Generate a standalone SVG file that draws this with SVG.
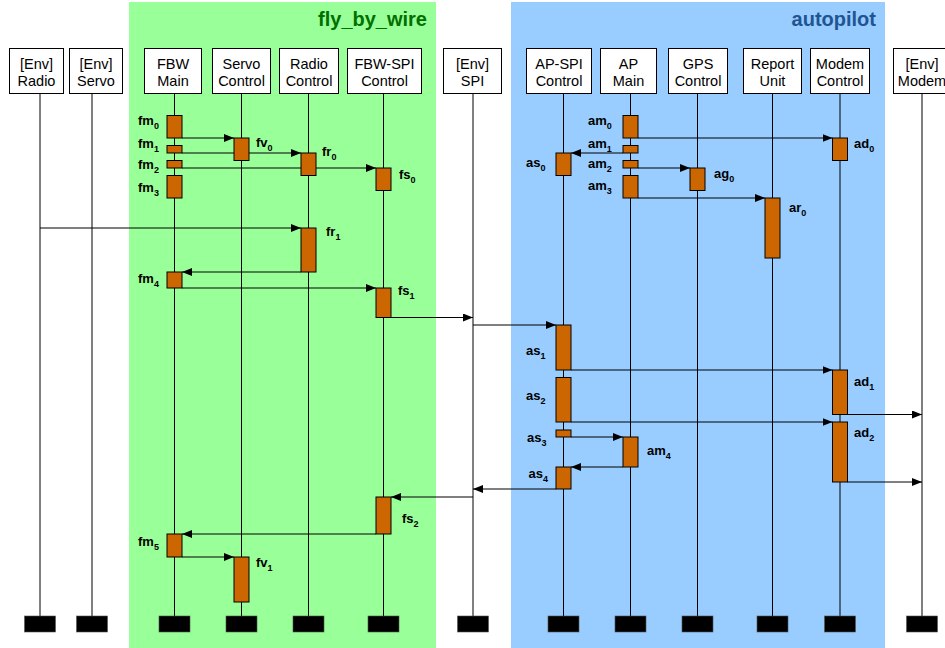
<svg xmlns="http://www.w3.org/2000/svg" width="945" height="648" viewBox="0 0 945 648">
  <style>
    .hdr rect { fill: #ffffff; stroke: #000000; stroke-width: 1; }
    .hdr text { font-family: "Liberation Sans", Arial, sans-serif; font-size: 14.5px; fill: #000000; text-anchor: middle; }
    .life { stroke: #000000; stroke-width: 1; }
    .end { fill: #000000; stroke: #555555; stroke-width: 0.6; }
    .act { fill: #cc6600; stroke: #000000; stroke-width: 1; }
    .lbl { font-family: "Liberation Sans", Arial, sans-serif; font-size: 13px; font-weight: bold; fill: #000000; }
    .sub { font-size: 9px; }
    .msg { stroke: #000000; stroke-width: 1; fill: none; marker-end: url(#arrow); }
    .title { font-family: "Liberation Sans", Arial, sans-serif; font-size: 20px; font-weight: bold; text-anchor: end; }
  </style>
  <defs>
    <marker id="arrow" viewBox="0 0 10 8" refX="10" refY="4" markerWidth="10" markerHeight="8" markerUnits="userSpaceOnUse" orient="auto">
      <path d="M0,0 L10,4 L0,8 Z" fill="#000000"/>
    </marker>
  </defs>

  <!-- subsystem backgrounds -->
  <g id="fly_by_wire">
    <rect x="129" y="2" width="307" height="646" fill="#99ff99"/>
    <text class="title" x="427" y="26" fill="#007000">fly_by_wire</text>
  </g>
  <g id="autopilot">
    <rect x="511" y="2" width="374" height="646" fill="#99ccff"/>
    <text class="title" x="876" y="26" fill="#1f5592">autopilot</text>
  </g>

  <!-- lifelines with end bars -->
  <g id="lifelines">
    <line class="life" x1="40" y1="93" x2="40" y2="616"/>
    <line class="life" x1="92" y1="93" x2="92" y2="616"/>
    <line class="life" x1="174.5" y1="93" x2="174.5" y2="616"/>
    <line class="life" x1="241.5" y1="93" x2="241.5" y2="616"/>
    <line class="life" x1="308.5" y1="93" x2="308.5" y2="616"/>
    <line class="life" x1="383.5" y1="93" x2="383.5" y2="616"/>
    <line class="life" x1="473" y1="93" x2="473" y2="616"/>
    <line class="life" x1="563.5" y1="93" x2="563.5" y2="616"/>
    <line class="life" x1="630.5" y1="93" x2="630.5" y2="616"/>
    <line class="life" x1="697.5" y1="93" x2="697.5" y2="616"/>
    <line class="life" x1="772.5" y1="93" x2="772.5" y2="616"/>
    <line class="life" x1="840" y1="93" x2="840" y2="616"/>
    <line class="life" x1="922" y1="93" x2="922" y2="616"/>
    <rect class="end" x="24.5" y="616" width="31" height="16"/>
    <rect class="end" x="76.5" y="616" width="31" height="16"/>
    <rect class="end" x="159" y="616" width="31" height="16"/>
    <rect class="end" x="226" y="616" width="31" height="16"/>
    <rect class="end" x="293" y="616" width="31" height="16"/>
    <rect class="end" x="368" y="616" width="31" height="16"/>
    <rect class="end" x="457.5" y="616" width="31" height="16"/>
    <rect class="end" x="548" y="616" width="31" height="16"/>
    <rect class="end" x="615" y="616" width="31" height="16"/>
    <rect class="end" x="682" y="616" width="31" height="16"/>
    <rect class="end" x="757" y="616" width="31" height="16"/>
    <rect class="end" x="824.5" y="616" width="31" height="16"/>
    <rect class="end" x="906.5" y="616" width="31" height="16"/>
  </g>

  <!-- participant headers -->
  <g id="env_radio" class="hdr">
    <rect x="9.5" y="48.5" width="54" height="45"/>
    <text x="36.5" y="68.5">[Env]</text><text x="36.5" y="85.5">Radio</text>
  </g>
  <g id="env_servo" class="hdr">
    <rect x="69.5" y="48.5" width="53" height="45"/>
    <text x="96" y="68.5">[Env]</text><text x="96" y="85.5">Servo</text>
  </g>
  <g id="fbw_main" class="hdr">
    <rect x="144.5" y="48.5" width="57" height="45"/>
    <text x="173" y="68.5">FBW</text><text x="173" y="85.5">Main</text>
  </g>
  <g id="servo_control" class="hdr">
    <rect x="212.5" y="48.5" width="58" height="45"/>
    <text x="241.5" y="68.5">Servo</text><text x="241.5" y="85.5">Control</text>
  </g>
  <g id="radio_control" class="hdr">
    <rect x="279.5" y="48.5" width="59" height="45"/>
    <text x="309" y="68.5">Radio</text><text x="309" y="85.5">Control</text>
  </g>
  <g id="fbw_spi_control" class="hdr">
    <rect x="347.5" y="48.5" width="74" height="45"/>
    <text x="384.5" y="68.5">FBW-SPI</text><text x="384.5" y="85.5">Control</text>
  </g>
  <g id="env_spi" class="hdr">
    <rect x="443.5" y="48.5" width="58" height="45"/>
    <text x="472.5" y="68.5">[Env]</text><text x="472.5" y="85.5">SPI</text>
  </g>
  <g id="ap_spi_control" class="hdr">
    <rect x="526.5" y="48.5" width="65" height="45"/>
    <text x="559" y="68.5">AP-SPI</text><text x="559" y="85.5">Control</text>
  </g>
  <g id="ap_main" class="hdr">
    <rect x="600.5" y="48.5" width="56" height="45"/>
    <text x="628.5" y="68.5">AP</text><text x="628.5" y="85.5">Main</text>
  </g>
  <g id="gps_control" class="hdr">
    <rect x="668.5" y="48.5" width="59" height="45"/>
    <text x="698" y="68.5">GPS</text><text x="698" y="85.5">Control</text>
  </g>
  <g id="report_unit" class="hdr">
    <rect x="743.5" y="48.5" width="58" height="45"/>
    <text x="772.5" y="68.5">Report</text><text x="772.5" y="85.5">Unit</text>
  </g>
  <g id="modem_control" class="hdr">
    <rect x="810.5" y="48.5" width="59" height="45"/>
    <text x="840" y="68.5">Modem</text><text x="840" y="85.5">Control</text>
  </g>
  <g id="env_modem" class="hdr">
    <rect x="893.5" y="48.5" width="60" height="45"/>
    <text x="922" y="68.5">[Env]</text><text x="922" y="85.5">Modem</text>
  </g>

  <!-- messages -->
  <g id="connectors">
    <line class="msg" x1="182" y1="138" x2="234" y2="138"/>
    <line class="msg" x1="182" y1="153" x2="301" y2="153"/>
    <line class="msg" x1="182" y1="168" x2="376" y2="168"/>
    <line class="msg" x1="40" y1="228" x2="301" y2="228"/>
    <line class="msg" x1="301" y1="272" x2="182" y2="272"/>
    <line class="msg" x1="182" y1="288" x2="376" y2="288"/>
    <line class="msg" x1="391" y1="317.5" x2="473" y2="317.5"/>
    <line class="msg" x1="473" y1="325" x2="556" y2="325"/>
    <line class="msg" x1="571" y1="370" x2="832.5" y2="370"/>
    <line class="msg" x1="847.5" y1="414.5" x2="922" y2="414.5"/>
    <line class="msg" x1="571" y1="422" x2="832.5" y2="422"/>
    <line class="msg" x1="847.5" y1="482" x2="922" y2="482"/>
    <line class="msg" x1="571" y1="437" x2="623" y2="437"/>
    <line class="msg" x1="623" y1="467" x2="571" y2="467"/>
    <line class="msg" x1="556" y1="489" x2="473" y2="489"/>
    <line class="msg" x1="473" y1="497" x2="391" y2="497"/>
    <line class="msg" x1="376" y1="534" x2="182" y2="534"/>
    <line class="msg" x1="182" y1="557" x2="234" y2="557"/>
    <line class="msg" x1="638" y1="138" x2="832.5" y2="138"/>
    <line class="msg" x1="623" y1="153" x2="571" y2="153"/>
    <line class="msg" x1="638" y1="168" x2="690" y2="168"/>
    <line class="msg" x1="638" y1="198" x2="765" y2="198"/>
  </g>

  <!-- activations: fly_by_wire -->
  <g id="fm0"><rect class="act" x="167" y="115.5" width="15" height="22.5"/><text class="lbl" x="138" y="125">fm<tspan class="sub" dy="4">0</tspan></text></g>
  <g id="fm1"><rect class="act" x="167" y="145.5" width="15" height="7.5"/><text class="lbl" x="138" y="147.5">fm<tspan class="sub" dy="4">1</tspan></text></g>
  <g id="fm2"><rect class="act" x="167" y="160.5" width="15" height="7.5"/><text class="lbl" x="138" y="169">fm<tspan class="sub" dy="4">2</tspan></text></g>
  <g id="fm3"><rect class="act" x="167" y="175.5" width="15" height="22.5"/><text class="lbl" x="138" y="192">fm<tspan class="sub" dy="4">3</tspan></text></g>
  <g id="fm4"><rect class="act" x="167" y="272" width="15" height="16"/><text class="lbl" x="138" y="283">fm<tspan class="sub" dy="4">4</tspan></text></g>
  <g id="fm5"><rect class="act" x="167" y="534" width="15" height="23"/><text class="lbl" x="138" y="546">fm<tspan class="sub" dy="4">5</tspan></text></g>
  <g id="fv0"><rect class="act" x="234" y="138" width="15" height="22.5"/><text class="lbl" x="256" y="146.5">fv<tspan class="sub" dy="4">0</tspan></text></g>
  <g id="fv1"><rect class="act" x="234" y="557" width="15" height="45"/><text class="lbl" x="256" y="566.5">fv<tspan class="sub" dy="4">1</tspan></text></g>
  <g id="fr0"><rect class="act" x="301" y="153" width="15" height="22.5"/><text class="lbl" x="322" y="156">fr<tspan class="sub" dy="4">0</tspan></text></g>
  <g id="fr1"><rect class="act" x="301" y="228" width="15" height="44"/><text class="lbl" x="326" y="235.5">fr<tspan class="sub" dy="4">1</tspan></text></g>
  <g id="fs0"><rect class="act" x="376" y="168" width="15" height="22.5"/><text class="lbl" x="399" y="179">fs<tspan class="sub" dy="4">0</tspan></text></g>
  <g id="fs1"><rect class="act" x="376" y="288" width="15" height="29.5"/><text class="lbl" x="398" y="295">fs<tspan class="sub" dy="4">1</tspan></text></g>
  <g id="fs2"><rect class="act" x="376" y="497" width="15" height="37"/><text class="lbl" x="402" y="523">fs<tspan class="sub" dy="4">2</tspan></text></g>

  <!-- activations: autopilot -->
  <g id="am0"><rect class="act" x="623" y="115.5" width="15" height="22.5"/><text class="lbl" x="588" y="124.5">am<tspan class="sub" dy="4">0</tspan></text></g>
  <g id="am1"><rect class="act" x="623" y="145.5" width="15" height="7.5"/><text class="lbl" x="588" y="147.5">am<tspan class="sub" dy="4">1</tspan></text></g>
  <g id="am2"><rect class="act" x="623" y="160.5" width="15" height="7.5"/><text class="lbl" x="588" y="168">am<tspan class="sub" dy="4">2</tspan></text></g>
  <g id="am3"><rect class="act" x="623" y="175.5" width="15" height="22.5"/><text class="lbl" x="588" y="190">am<tspan class="sub" dy="4">3</tspan></text></g>
  <g id="am4"><rect class="act" x="623" y="437" width="15" height="30"/><text class="lbl" x="647" y="455">am<tspan class="sub" dy="4">4</tspan></text></g>
  <g id="as0"><rect class="act" x="556" y="153" width="15" height="22.5"/><text class="lbl" x="526" y="167">as<tspan class="sub" dy="4">0</tspan></text></g>
  <g id="as1"><rect class="act" x="556" y="325" width="15" height="45"/><text class="lbl" x="526" y="355">as<tspan class="sub" dy="4">1</tspan></text></g>
  <g id="as2"><rect class="act" x="556" y="377.5" width="15" height="44.5"/><text class="lbl" x="526" y="400">as<tspan class="sub" dy="4">2</tspan></text></g>
  <g id="as3"><rect class="act" x="556" y="430" width="15" height="7"/><text class="lbl" x="527" y="441.5">as<tspan class="sub" dy="4">3</tspan></text></g>
  <g id="as4"><rect class="act" x="556" y="467" width="15" height="22"/><text class="lbl" x="528.5" y="478">as<tspan class="sub" dy="4">4</tspan></text></g>
  <g id="ag0"><rect class="act" x="690" y="168" width="15" height="22.5"/><text class="lbl" x="714" y="178">ag<tspan class="sub" dy="4">0</tspan></text></g>
  <g id="ar0"><rect class="act" x="765" y="198" width="15" height="60"/><text class="lbl" x="789" y="212">ar<tspan class="sub" dy="4">0</tspan></text></g>
  <g id="ad0"><rect class="act" x="832.5" y="138" width="15" height="22.5"/><text class="lbl" x="854" y="148">ad<tspan class="sub" dy="4">0</tspan></text></g>
  <g id="ad1"><rect class="act" x="832.5" y="370" width="15" height="44.5"/><text class="lbl" x="854" y="386">ad<tspan class="sub" dy="4">1</tspan></text></g>
  <g id="ad2"><rect class="act" x="832.5" y="422" width="15" height="60"/><text class="lbl" x="854" y="437">ad<tspan class="sub" dy="4">2</tspan></text></g>
</svg>
